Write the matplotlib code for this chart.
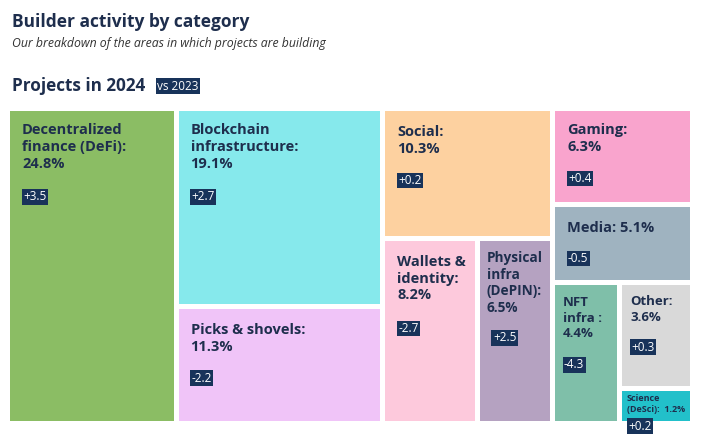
import matplotlib
matplotlib.use("Agg")
import matplotlib.pyplot as plt
from matplotlib.patches import Rectangle

plt.rcParams['font.family'] = ['Open Sans', 'DejaVu Sans']

# Data: share of projects in 2024 (%) and change vs 2023 (pp)
names = ["Decentralized\nfinance (DeFi):", "Blockchain\ninfrastructure:", "Picks & shovels:",
         "Social:", "Wallets &\nidentity:", "Physical\ninfra\n(DePIN):",
         "Gaming:", "Media:", "NFT\ninfra :", "Other:", "Science\n(DeSci): "]
values = [24.8, 19.1, 11.3, 10.3, 8.2, 6.5, 6.3, 5.1, 4.4, 3.6, 1.2]
deltas = ["+3.5", "+2.7", "-2.2", "+0.2", "-2.7", "+2.5", "+0.4", "-0.5", "-4.3", "+0.3", "+0.2"]
colors = ["#8bbd64", "#86e9ec", "#f0c4f8", "#fdd1a0", "#fdc9dc", "#b5a2c1",
          "#f9a4cd", "#9fb3c0", "#7fbfa9", "#d9d9d9", "#22c0ca"]

# nesting of the treemap: ('h', ...) split left-right, ('v', ...) split top-bottom
layout = ('h', 0, ('v', 1, 2), ('v', 3, ('h', 4, 5)),
          ('v', 6, 7, ('h', 8, ('v', 9, 10))))

NAVY = "#1e2e4d"
BOXC = "#18335a"
GAP = 5


def total(node):
    if isinstance(node, int):
        return values[node]
    return sum(total(c) for c in node[1:])


def place(node, x0, y0, x1, y1, out):
    if isinstance(node, int):
        out[node] = (x0, y0, x1, y1)
        return
    kids = node[1:]
    s = sum(total(k) for k in kids)
    pos = x0 if node[0] == 'h' else y0
    for k in kids:
        frac = total(k) / s
        if node[0] == 'h':
            w = (x1 - x0) * frac
            place(k, pos, y0, pos + w, y1, out)
        else:
            h = (y1 - y0) * frac
            place(k, x0, pos, x1, pos + h, out)
        pos += (x1 - x0) * frac if node[0] == 'h' else (y1 - y0) * frac


boxes = {}
place(layout, 7.5, 108.5, 692.5, 423.5, boxes)

fig = plt.figure(figsize=(7.05, 4.44), dpi=100)
ax = fig.add_axes([0, 0, 1, 1])
ax.set_xlim(0, 705)
ax.set_ylim(444, 0)
ax.axis('off')

# header
ax.text(12, 22, "Builder activity by category", fontsize=12.5, fontweight='bold',
        color=NAVY, va='center')
ax.text(12, 44, "Our breakdown of the areas in which projects are building", fontsize=8.8,
        style='italic', color="#333333", va='center')
ax.text(12, 86, "Projects in 2024", fontsize=12.3, fontweight='bold', color=NAVY, va='center')
ax.text(157, 86, "vs 2023", fontsize=8.5, color='white', va='center',
        bbox=dict(boxstyle='square,pad=0.12', fc=BOXC, ec='none'))

# label style per tile: (font size, x pad, top pad, delta x indent)
small = {5: (9.8, 7, 10, 5), 9: (9.5, 8, 10, 0), 8: (9.5, 8, 11, 0), 10: (6.5, 5, 3, 0)}

for i, (x0, y0, x1, y1) in boxes.items():
    h = GAP / 2
    ax.add_patch(Rectangle((x0 + h, y0 + h), x1 - x0 - GAP, y1 - y0 - GAP,
                           fc=colors[i], ec='none'))
    fs, px, pt, dx = small.get(i, (10.5, 12, 14, 0))
    if i in (0, 1, 6):
        pt = 12
    label = names[i] + (" " if i in (7, 10) else "\n") + f"{values[i]}%"
    if i == 10:
        label = names[i] + f" {values[i]}%"
    top = y0 + h + pt
    ax.text(x0 + h + px, top, label, fontsize=fs, fontweight='bold', color=NAVY,
            va='top', ha='left', linespacing=1.25)
    nlines = label.count("\n") + 1
    lh = fs * 1.25 * 100 / 72
    dy = top + nlines * lh + (19 if fs > 7 else 10)
    ax.text(x0 + h + px + dx + 1, dy, deltas[i], fontsize=8.5, color='white', va='center',
            ha='left', bbox=dict(boxstyle='square,pad=0.12', fc=BOXC, ec='none'))

fig.savefig("out.png", dpi=100)
